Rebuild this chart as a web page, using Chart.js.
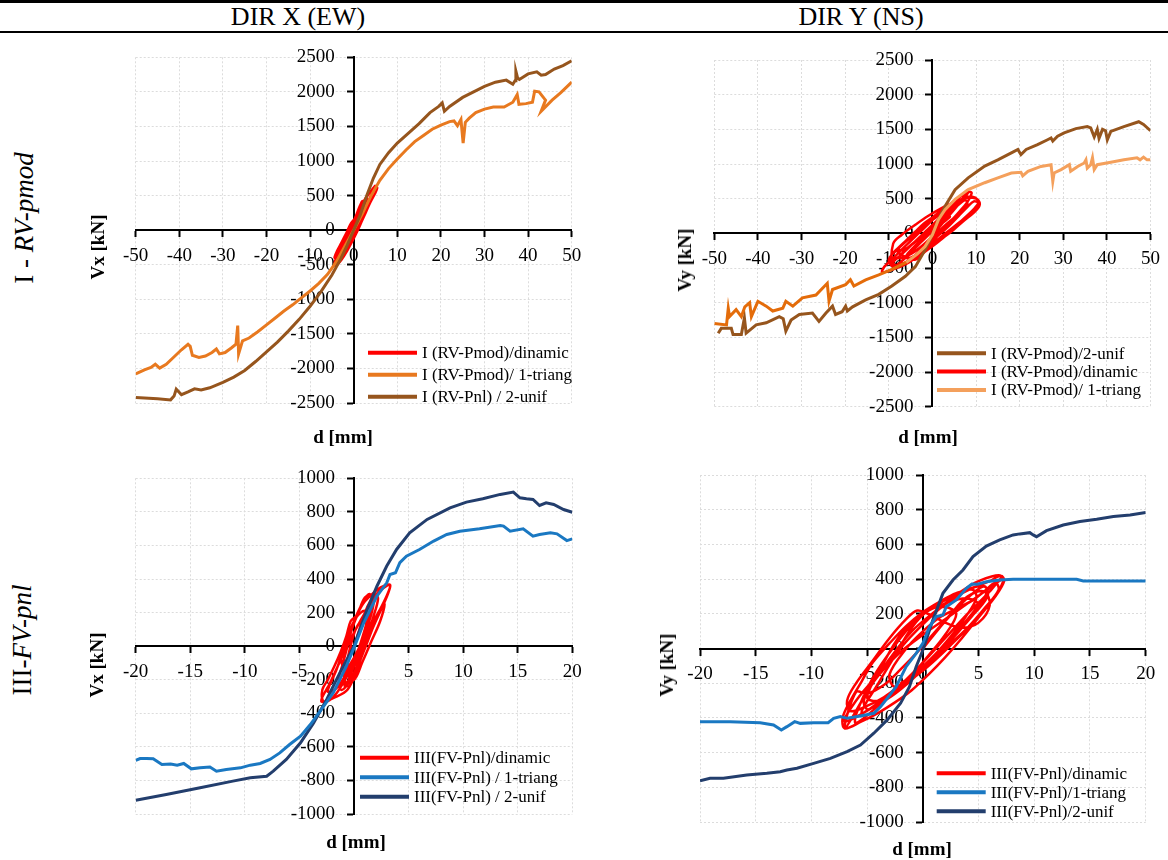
<!DOCTYPE html>
<html>
<head>
<meta charset="utf-8">
<title>Pushover vs dynamic response</title>
<script src="https://cdn.jsdelivr.net/npm/chart.js@4.4.1/dist/chart.umd.min.js"></script>
<style>
  body { margin: 0; background: #fff; font-family: 'Liberation Serif', 'Times New Roman', serif; }
  #page { position: relative; width: 1168px; height: 860px; overflow: hidden; }
  canvas { position: absolute; }
  .rule { position: absolute; left: 0; width: 1168px; background: #000; }
  .txt { position: absolute; white-space: nowrap; color: #000; transform: translate(-50%, -50%); }
  .vert { transform: translate(-50%, -50%) rotate(-90deg); }
  .head { font-size: 26px; }
  .row { font-size: 27px; }
  .atitle { font-size: 19px; font-weight: bold; }
</style>
</head>
<body>
<div id="page">
  <div class="rule" style="top:0;height:3px"></div>
  <div class="rule" style="top:31px;height:2px"></div>
  <div class="txt head" style="left:298px;top:17px">DIR X (EW)</div>
  <div class="txt head" style="left:861px;top:17px">DIR Y (NS)</div>

  <canvas id="tl" width="540" height="420" style="left:60px;top:40px"></canvas>
  <canvas id="tr" width="548" height="420" style="left:620px;top:40px"></canvas>
  <canvas id="bl" width="540" height="400" style="left:60px;top:460px"></canvas>
  <canvas id="br" width="548" height="400" style="left:620px;top:460px"></canvas>

  <div class="txt row vert" style="left:24px;top:218px">I - <i>RV-pmod</i></div>
  <div class="txt row vert" style="left:22px;top:640px">III-<i>FV-pnl</i></div>

  <div class="txt atitle vert" style="left:98px;top:247px">Vx [kN]</div>
  <div class="txt atitle" style="left:343px;top:437px">d [mm]</div>
  <div class="txt atitle vert" style="left:685px;top:260px">Vy [kN]</div>
  <div class="txt atitle" style="left:928px;top:437px">d [mm]</div>
  <div class="txt atitle vert" style="left:97px;top:665px">Vx [kN]</div>
  <div class="txt atitle" style="left:356px;top:842px">d [mm]</div>
  <div class="txt atitle vert" style="left:667px;top:665px">Vy [kN]</div>
  <div class="txt atitle" style="left:922px;top:849px">d [mm]</div>
</div>

<script>
// axis ranges [min, max, step]
const dRangeTop = [-50, 50, 10];
const vRangeTop = [-2500, 2500, 500];
const dRangeBot = [-20, 20, 5];
const vRangeBot = [-1000, 1000, 200];

// ---- I - RV-pmod, DIR X  ([d mm, Vx kN])
const tlDinamic = [[0,0],[0.8,120],[1.6,260],[2.2,380],[2.6,420],[2.4,330],[1.6,180],[0.6,20],[-0.4,-120],[-1.4,-260],[-2.4,-380],[-3.2,-450],[-3.6,-430],[-3,-320],[-2,-170],[-1,-40],[0,90],[1,220],[1.8,340],[2.6,440],[3.4,520],[4.2,580],[5,630],[5.4,610],[4.8,520],[3.8,400],[2.8,260],[1.8,120],[0.8,-20],[-0.4,-170],[-1.6,-310],[-2.8,-430],[-3.8,-500],[-4.4,-510],[-4.2,-430],[-3.4,-330],[-2.4,-200],[-1.4,-60],[-0.4,80],[0.6,220],[1.4,350],[2,420],[1.8,300],[1,140],[0,-10],[-1,-150],[-1.8,-260],[-1.2,-140],[-0.2,20],[0.8,200],[1.8,360],[2.8,470],[3.6,540],[4.4,600],[4.9,640],[4.4,560],[3.4,420],[2.2,250],[1,80],[-0.2,-90],[-1.4,-250],[-2.6,-390],[-3.6,-480],[-4.2,-520],[-3.8,-460],[-2.8,-350],[-1.8,-210],[-0.8,-60],[0.4,110],[1.4,260],[2.2,360],[3,450],[3.2,400],[2.4,260],[1.4,100],[0.4,-50],[-0.6,-190],[-1.8,-330],[-2.8,-420],[-3.4,-440],[-2.6,-270],[-1.6,-110],[-0.6,40],[0.4,170],[1.2,300],[1.8,380],[1.4,250],[0.4,80],[-0.6,-80],[-1.6,-210],[-2.4,-300],[-3.8,-390],[-4.4,-400],[-3.8,-300],[-2.8,-180],[-1.6,-30],[-0.6,100],[0.2,160]];
const tlTriang = [[-50,-2080],[-48,-2020],[-46.5,-1985],[-45.5,-1940],[-44.5,-1995],[-43,-1940],[-41,-1820],[-39.5,-1730],[-38,-1650],[-37.5,-1680],[-37,-1810],[-35.5,-1840],[-34,-1820],[-32.5,-1770],[-31.5,-1720],[-30.8,-1790],[-29.5,-1770],[-28,-1700],[-27,-1650],[-26.6,-1380],[-26.4,-1790],[-25.5,-1600],[-24,-1560],[-22,-1470],[-20,-1370],[-18,-1270],[-16,-1170],[-14,-1080],[-12,-980],[-10,-880],[-8,-770],[-6,-640],[-4,-460],[-2,-230],[0,0],[2,240],[4,500],[6,720],[8,890],[10,1030],[12,1160],[14,1280],[16,1370],[18,1460],[20,1520],[22,1570],[23,1580],[23.8,1510],[24.6,1600],[25.1,1260],[25.6,1560],[26.5,1620],[28,1700],[30,1750],[32,1780],[34.5,1780],[36.5,1850],[37.5,1960],[37.9,1820],[39.5,1830],[41,1850],[41.5,2010],[42.5,2000],[44,1880],[43,1720],[45.5,1880],[47.5,1990],[50,2140]];
const tlUnif = [[-50,-2420],[-45,-2440],[-42,-2455],[-41.2,-2400],[-40.7,-2300],[-39.5,-2380],[-38,-2340],[-36.5,-2295],[-35,-2310],[-33,-2280],[-30,-2200],[-27.5,-2125],[-25,-2030],[-22.5,-1900],[-20,-1760],[-17.5,-1620],[-15,-1460],[-12.5,-1290],[-10,-1100],[-7.5,-890],[-5,-650],[-3,-420],[-1.5,-220],[0,0],[1.5,220],[3,500],[4.5,750],[6,950],[8,1120],[10,1260],[12.5,1400],[15,1540],[17.5,1700],[19.5,1790],[20.3,1840],[20.8,1720],[22,1790],[25,1920],[27.5,2000],[30,2080],[32.5,2140],[35,2170],[36.5,2110],[37,2160],[37.2,2300],[37.6,2200],[38,2180],[40,2260],[42,2290],[43,2240],[44,2250],[46,2330],[48,2380],[50,2450]];

// ---- I - RV-pmod, DIR Y  ([d mm, Vy kN])
const trUnif = [[-49.1,-1440],[-48.4,-1370],[-46.1,-1370],[-45.7,-1460],[-43.8,-1460],[-43.1,-1220],[-42.7,-1440],[-40.4,-1320],[-38.1,-1290],[-35.1,-1200],[-34.2,-1230],[-33.6,-1410],[-32.4,-1250],[-30.5,-1170],[-27.5,-1150],[-26,-1270],[-24.4,-1150],[-22.9,-1050],[-22.2,-1170],[-20.7,-1130],[-19.9,-1050],[-19.5,-1120],[-18.3,-1060],[-15.3,-960],[-12.3,-880],[-9.3,-760],[-6.2,-620],[-3.9,-480],[-1.7,-240],[0,-20],[1.4,200],[2.9,390],[5.2,630],[8.2,800],[12,970],[15,1060],[18.1,1160],[19.6,1210],[20.3,1135],[21.5,1210],[24.1,1280],[26.4,1350],[27.2,1375],[27.6,1330],[28.7,1400],[30.2,1450],[32.9,1510],[35.5,1540],[36.3,1520],[37.1,1390],[37.8,1500],[38.2,1370],[39,1500],[39.7,1480],[40.1,1350],[40.9,1470],[43.9,1540],[47.3,1610],[48.4,1570],[50,1480]];
const trDinamic = [[0,0],[2,150],[4,300],[6,430],[7.5,530],[8.5,600],[9,580],[8,450],[6,300],[4,160],[2,20],[0,-120],[-2,-250],[-4,-360],[-6,-430],[-8,-470],[-9,-420],[-7,-300],[-5,-180],[-3,-60],[-1,60],[1,180],[3,300],[5,400],[7,500],[9,530],[10.5,480],[10.8,400],[9.5,300],[7,170],[5,60],[3,-40],[1,-130],[-1,-220],[-3,-320],[-6,-440],[-9,-520],[-11.5,-560],[-11,-480],[-9,-360],[-7,-230],[-5,-110],[-3,10],[-1,130],[1,250],[3,360],[5,460],[7,560],[8,620],[7.5,560],[6,420],[4,270],[2,120],[0,-40],[-2,-160],[-4,-260],[-6,-330],[-8,-360],[-9.5,-330],[-8,-220],[-6,-100],[-4,20],[-2,140],[0,230],[2,330],[4,420],[5.5,470],[5,380],[3,250],[1,110],[-1,-30],[-3,-150],[-5,-280],[-7,-400],[-9,-480],[-10,-380],[-8,-230],[-5,-60],[-2,100],[1,240],[4,380],[7,500],[10,500],[10.8,420],[9,300],[6,150],[3,0],[0,-150],[-3,-290],[-6,-410],[-9,-480],[-9,-150],[-7,-20],[-4,120],[-1,250],[2,360],[4,420],[5,380],[3,240],[0,80],[-3,-80],[-6,-220],[-8,-260],[-5,-350],[-2,-200],[1,-50],[4,120],[6,250],[8,380],[9.5,460],[10.5,440],[9.5,350],[7,200],[4,20],[1,-140],[-2,-280],[-4,-380],[-7,-300],[-4,-120],[-1,60],[2,220],[5,360],[7.5,480],[8,420],[6,280],[3,120],[0,-60],[-3,-220],[-6,-330],[-4,-180],[-1,-20],[2,140],[4,240],[3,180],[0,40]];
const trTriangNeg = [[-50,-1300],[-47.2,-1320],[-46.8,-1080],[-46.5,-1200],[-45,-1100],[-43.8,-1200],[-43,-1060],[-41.9,-1000],[-41.5,-1200],[-40,-980],[-38.1,-1050],[-36.6,-1120],[-34.3,-1080],[-33.6,-980],[-32,-1050],[-29.8,-930],[-26.7,-890],[-24.1,-720],[-23.7,-980],[-22.9,-810],[-19.9,-740],[-18.8,-670],[-18,-760],[-15.3,-670],[-12.3,-600],[-9.3,-520],[-6,-420]];
const trTriang = [[-6,-420],[-3.5,-300],[-1.7,-190],[0,-20],[1.4,200],[2.9,340],[5.2,490],[8.2,630],[12,730],[15,800],[18.1,870],[20.3,880],[20.7,830],[21.9,895],[24.9,965],[27.2,990],[27.6,750],[27.9,870],[29.5,920],[31.4,990],[31.7,895],[33.3,965],[34.8,1015],[35.2,1060],[35.5,940],[36.3,990],[36.7,1090],[37.1,920],[37.8,990],[40.9,1025],[43.9,1060],[46.9,1090],[47.6,1060],[48.4,1100],[49.2,1060],[50,1060]];

// ---- III-FV-pnl, DIR X
const blDinamic = [[0,0],[0.5,100],[1,200],[1.5,270],[2,310],[2.2,280],[1.8,180],[1.2,60],[0.6,-60],[0,-160],[-0.6,-230],[-1.2,-260],[-1.4,-200],[-1,-100],[-0.6,0],[-0.2,100],[0.4,200],[1,290],[1.6,300],[1.4,200],[0.9,80],[0.3,-40],[-0.4,-150],[-1,-220],[-1.6,-280],[-2.2,-320],[-2.8,-330],[-2.9,-260],[-2.4,-200],[-1.8,-120],[-1.2,-30],[-0.7,60],[-0.3,150],[0.2,180],[0.8,250],[1.5,300],[2.2,340],[2.8,360],[3.3,365],[3.1,310],[2.5,220],[1.8,120],[1.2,20],[0.6,-80],[0,-190],[-0.5,-240],[-0.9,-180],[-0.6,-80],[-0.2,30],[0.3,120],[0.8,150],[1.2,120],[1,20],[0.5,-80],[0.2,-150],[-0.6,-260],[-1.6,-300],[-3,-330],[-2.2,-220],[-1.2,-80],[0,80],[1.2,220],[2.2,320],[3.3,365],[3,300],[2,170],[0.8,20],[-0.4,-130],[-1.6,-250],[-2.4,-270],[-1.6,-140],[-0.8,10],[0,150],[0.8,260],[1.4,310],[1.8,260],[1.2,110],[0.4,-30],[-0.6,-180],[-1.2,-60],[-0.6,60],[0.2,170],[1,210],[1.4,150],[0.8,40],[0,-70],[-0.8,-160],[-0.8,-240],[0,-120],[0.8,0],[1.6,120],[2.4,220],[2.8,250],[2.4,150],[1.6,30],[0.8,-90],[0,-200],[-0.6,-120],[-0.2,0]];
const blTriang = [[-20,-681],[-19.6,-670],[-19,-669],[-18.4,-671],[-17.6,-705],[-16.8,-702],[-16.2,-709],[-15.6,-699],[-14.9,-731],[-14.1,-725],[-13.2,-720],[-12.6,-745],[-11.7,-735],[-10.4,-725],[-9.5,-709],[-8.6,-699],[-7.7,-675],[-6.8,-636],[-5.9,-586],[-4.9,-536],[-4,-467],[-3.1,-387],[-1.9,-278],[-0.7,-119],[0,-10],[0.9,139],[2.1,298],[3,377],[3.3,427],[3.8,437],[4.2,497],[4.8,536],[6,576],[7.3,626],[8.5,665],[9.7,685],[11.5,699],[13.4,719],[13.7,715],[14.3,685],[15.5,699],[16.4,655],[17,665],[18,675],[18.6,669],[19.5,629],[20,639]];
const blUnif = [[-20,-918],[-17.2,-884],[-14.1,-844],[-11.1,-804],[-9.5,-784],[-8,-775],[-7.4,-745],[-6.2,-675],[-4.9,-576],[-3.7,-457],[-2.5,-318],[-1.3,-159],[0,0],[1.2,218],[2.1,357],[3,477],[3.9,576],[5.1,675],[6.7,755],[8.8,824],[10.3,858],[11.8,878],[13.4,904],[14.6,918],[15.2,884],[15.8,878],[16.4,874],[17,838],[17.6,854],[18.3,844],[19.2,814],[20,798]];

// ---- III-FV-pnl, DIR Y
const brDinamic = [[0,0],[1.5,120],[3,230],[4.5,320],[5.5,360],[5.8,330],[5,250],[3.5,130],[2,20],[0.5,-90],[-1,-180],[-2.5,-260],[-4,-320],[-5,-350],[-5.3,-300],[-4.5,-200],[-3,-80],[-1.5,40],[0,140],[1.5,230],[3,300],[4.5,350],[6,390],[7,420],[7.3,390],[6.5,300],[5,180],[3.5,60],[2,-50],[0.5,-150],[-1,-240],[-2.5,-310],[-4,-370],[-5.5,-420],[-7,-460],[-7.2,-400],[-6.5,-300],[-5.5,-190],[-4.5,-80],[-3,30],[-1.5,130],[0,210],[1.5,270],[3,320],[4.5,340],[4.8,290],[3.8,180],[2.5,70],[1,-40],[-0.5,-130],[-2,-210],[-3.5,-280],[-5,-330],[-6.5,-360],[-6.8,-300],[-6,-200],[-4.5,-70],[-3,60],[-1.5,170],[-0.5,220],[0.5,200],[2,150],[3.5,120],[5,150],[6,250],[5.5,330],[4,300],[2.5,200],[1,90],[-0.5,-20],[-2,-120],[-3.5,-210],[-5,-260],[-6,-250],[-7,-460],[-5,-250],[-3,-60],[-1,100],[1,210],[3,310],[5,390],[7,420],[6,330],[4,200],[2,60],[0,-80],[-2,-210],[-4,-330],[-6,-430],[-6,-380],[-4.5,-170],[-2.5,20],[-0.5,170],[1.5,260],[3.5,330],[5.5,360],[5.8,300],[4,160],[2,20],[0,-110],[-2,-220],[-4,-300],[-5,-280],[-3.5,-80],[-2,80],[0,200],[2,260],[4,290],[5,250],[3.5,120],[1.5,-20],[-0.5,-150],[-2.5,-260],[-4,-320],[-7,-420],[-6,-300],[-4,-150],[-2,-20],[0,80],[2,170],[4,260],[6,350],[7.2,400],[6.5,300],[4.5,150],[2.5,20],[0.5,-100],[-1.5,-200],[-3.5,-290],[-5.5,-370],[-4,-200],[-2.5,-40],[-1,120],[0.5,220],[2,240],[3,200],[2,80],[0.5,-40],[-1,-150],[-2.5,-220],[-3,-150],[-1.5,0],[0,100],[1.5,180],[3,230],[4.5,280],[5.5,330],[6.5,380],[6.8,340],[5.5,230],[4,120],[2.5,30],[1,-60],[-0.5,-140],[-2,-200]];
const brTriang = [[-20,-421],[-17.3,-421],[-14.6,-427],[-13.4,-440],[-12.7,-469],[-12.2,-450],[-11.5,-421],[-11,-431],[-9.8,-427],[-8.5,-427],[-8,-402],[-7.4,-392],[-6.8,-402],[-5.6,-388],[-4.4,-373],[-3.8,-335],[-3.2,-287],[-2.4,-219],[-1.5,-104],[-0.6,-27],[0,31],[0.6,127],[1.2,185],[1.8,194],[2.1,242],[3,281],[3.9,348],[4.4,373],[4.9,372],[5.7,386],[6.9,396],[8.1,400],[11.1,400],[13.8,400],[14.4,390],[17.1,390],[20,390]];
const brUnif = [[-20,-762],[-19.1,-748],[-17.9,-748],[-15.8,-729],[-14,-719],[-12.8,-710],[-12.2,-700],[-11.3,-690],[-9.8,-662],[-8.3,-633],[-6.8,-594],[-5.6,-556],[-4.4,-488],[-3.2,-411],[-2,-315],[-1.2,-219],[-0.6,-104],[0,-8],[0.9,165],[1.8,319],[2.7,396],[3.6,454],[4.5,531],[5.7,592],[6.9,627],[8.1,656],[8.7,662],[9.6,669],[9.9,656],[10.2,646],[11.1,681],[12.6,713],[14.1,733],[15.6,746],[17.1,762],[18.6,771],[20,785]];

const FONT = 'Liberation Serif';
const RED = '#ff0000';

function series(label, pts, color, width, order, tension) {
    return {
        label: label,
        data: pts.map(p => ({ x: p[0], y: p[1] })),
        borderColor: color,
        backgroundColor: color,
        borderWidth: width,
        showLine: true,
        pointRadius: 0,
        pointHoverRadius: 0,
        fill: false,
        tension: tension || 0,
        order: order
    };
}

function axes(dr, vr) {
    const base = {
        type: 'linear',
        border: { color: '#000', width: 2, dash: [2, 2] },
        grid: { color: '#dcdcdc', lineWidth: 1, tickColor: '#000', tickLength: 6, tickWidth: 2 },
        ticks: { color: '#000', font: { family: FONT, size: 19 }, autoSkip: false, maxRotation: 0 }
    };
    return {
        x: { ...base, min: dr[0], max: dr[1], position: { y: 0 },
             ticks: { ...base.ticks, stepSize: dr[2], padding: 8, callback: v => String(v) } },
        // y labels sit on the axis line, trailing spaces push them left of it
        y: { ...base, min: vr[0], max: vr[1], position: { x: 0 },
             ticks: { ...base.ticks, stepSize: vr[2], callback: v => v + '    ' } }
    };
}

// legend drawn inside the plot, lines + labels
function innerLegend(items, x, y, gap) {
    return {
        id: 'innerLegend',
        afterDraw(chart) {
            const ctx = chart.ctx;
            ctx.save();
            ctx.font = '17px "' + FONT + '"';
            ctx.textBaseline = 'middle';
            ctx.fillStyle = '#000';
            items.forEach((idx, i) => {
                const ds = chart.data.datasets[idx];
                const yy = y + i * gap;
                ctx.strokeStyle = ds.borderColor;
                ctx.lineWidth = 4;
                ctx.beginPath();
                ctx.moveTo(x, yy);
                ctx.lineTo(x + 49, yy);
                ctx.stroke();
                ctx.fillText(ds.label, x + 54, yy + 1);
            });
            ctx.restore();
        }
    };
}

function makeChart(id, datasets, dr, vr, pad, legend) {
    return new Chart(document.getElementById(id), {
        type: 'scatter',
        data: { datasets: datasets },
        options: {
            responsive: false,
            animation: false,
            layout: { padding: pad },
            plugins: { legend: { display: false }, tooltip: { enabled: false } },
            scales: axes(dr, vr)
        },
        plugins: [legend]
    });
}

makeChart('tl', [
    series('I (RV-Pmod)/dinamic', tlDinamic, RED, 2.5, 3, 0.35),
    series('I (RV-Pmod)/ 1-triang', tlTriang, '#e8791f', 3, 2),
    series('I (RV-Pnl) / 2-unif', tlUnif, '#96551d', 3, 1)
], dRangeTop, vRangeTop, { left: 75.7, right: 28.3, top: 17.3, bottom: 57 },
   innerLegend([0, 1, 2], 308, 312.7, 22));

makeChart('tr', [
    series('I (RV-Pmod)/2-unif', trUnif, '#96551d', 3, 2),
    series('I (RV-Pmod)/dinamic', trDinamic, RED, 2.5, 4, 0.35),
    series('I (RV-Pmod)/ 1-triang', trTriang, '#f4a05c', 3, 1),
    series('', trTriangNeg, '#e46c0a', 3, 1)
], dRangeTop, vRangeTop, { left: 94.3, right: 14.7, top: 20, bottom: 53.3 },
   innerLegend([0, 1, 2], 317, 313.3, 18.3));

makeChart('bl', [
    series('III(FV-Pnl)/dinamic', blDinamic, RED, 2.5, 3, 0.35),
    series('III(FV-Pnl) / 1-triang', blTriang, '#1a78c2', 3, 1),
    series('III(FV-Pnl) / 2-unif', blUnif, '#233e6d', 3, 2)
], dRangeBot, vRangeBot, { left: 75.7, right: 27.7, top: 18.3, bottom: 46 },
   innerLegend([0, 1, 2], 300, 297.7, 19.5));

makeChart('br', [
    series('III(FV-Pnl)/dinamic', brDinamic, RED, 2.5, 3, 0.35),
    series('III(FV-Pnl)/1-triang', brTriang, '#1a78c2', 3, 1),
    series('III(FV-Pnl)/2-unif', brUnif, '#233e6d', 3, 2)
], dRangeBot, vRangeBot, { left: 80, right: 22.3, top: 15.3, bottom: 38 },
   innerLegend([0, 1, 2], 316.7, 313.3, 19));
</script>
</body>
</html>
